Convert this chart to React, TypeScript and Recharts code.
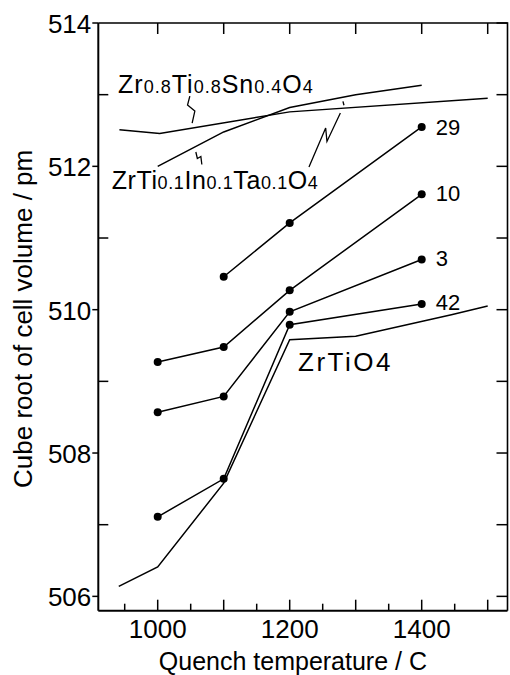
import React from 'react';
import { LineChart, Line, XAxis, YAxis, ReferenceDot, Label } from 'recharts';

const FONT = '"Liberation Sans", Arial, Helvetica, sans-serif';

// ---- data ----
const quenchTemps = [1000, 1100, 1200, 1400];
const temps29 = [1100, 1200, 1400];
const cell29 = [510.46, 511.21, 512.55];
const cell10 = [509.27, 509.48, 510.27, 511.61];
const cell3 = [508.57, 508.79, 509.97, 510.7];
const cell42 = [507.11, 507.64, 509.79, 510.08];
const zrTiO4Temps = [941, 1000, 1100, 1200, 1300, 1445, 1500];
const zrTiO4Cell = [506.14, 506.41, 507.58, 509.58, 509.63, 509.93, 510.05];
const snTemps = [942, 1003, 1200, 1500];
const snCell = [512.51, 512.46, 512.76, 512.95];
const inTaTemps = [1000, 1100, 1200, 1300, 1400];
const inTaCell = [512.0, 512.48, 512.82, 513.0, 513.13];

const X_DOMAIN = [910, 1530];
const Y_DOMAIN = [505.8, 514];
const xTicksBottom = [950, 1000, 1050, 1100, 1150, 1200, 1250, 1300, 1350, 1400, 1450, 1500];
const xTickLabels = [1000, 1200, 1400];
const xTicksTop = [1000, 1100, 1200, 1300, 1400, 1500];
const yTicks = [506, 507, 508, 509, 510, 511, 512, 513, 514];
const yTickLabels = [506, 508, 510, 512, 514];

// ---- layout ----
const CHART_W = 510;
const CHART_H = 675;
const MARGIN = { top: 23, right: 2.5, bottom: 0, left: 0 };
const Y_AXIS_W = 98.3;
const X_AXIS_H = 64.3;
const PLOT_W = CHART_W - MARGIN.left - MARGIN.right - Y_AXIS_W;
const PLOT_H = CHART_H - MARGIN.top - MARGIN.bottom - X_AXIS_H;
const ANCHOR = { x: 1000, y: 510 };

const toPts = (t: number[], v: number[]) => t.map((x, i) => ({ t: x, v: v[i] }));

const poly = (pts: number[][], w = 1.5, key?: string) => (
  <polyline key={key} points={pts.map((q) => q.join(',')).join(' ')} fill="none" stroke="#000" strokeWidth={w} />
);

// frame (top / right edges) and all tick marks, placed relative to an anchor point
// mapped by the chart's own scales
const FrameShape = (p: any) => {
  const sx = PLOT_W / (X_DOMAIN[1] - X_DOMAIN[0]);
  const sy = PLOT_H / (Y_DOMAIN[1] - Y_DOMAIN[0]);
  const X = (v: number) => p.cx + (v - ANCHOR.x) * sx;
  const Y = (v: number) => p.cy - (v - ANCHOR.y) * sy;
  const L = X(X_DOMAIN[0]);
  const R = X(X_DOMAIN[1]);
  const T = Y(Y_DOMAIN[1]);
  const B = Y(Y_DOMAIN[0]);
  return (
    <g>
      {poly([[L, T], [R, T], [R, B]], 1.6)}
      {xTicksBottom.map((v) => poly([[X(v), B], [X(v), B - (v % 100 === 0 ? 11 : 7)]], 1.5, 'b' + v))}
      {xTicksTop.map((v) => poly([[X(v), T], [X(v), T + 11]], 1.5, 't' + v))}
      {yTicks.map((v) =>
        yTickLabels.includes(v)
          ? poly([[L, Y(v)], [L - 6, Y(v)]], 1.5, 'l' + v)
          : poly([[L, Y(v)], [L + 10, Y(v)]], 1.5, 'l' + v)
      )}
      {yTicks.map((v) => poly([[R, Y(v)], [R - 11, Y(v)]], 1.5, 'r' + v))}
    </g>
  );
};

const BottomTick = (p: any) => {
  const v = p.payload.value;
  if (!xTickLabels.includes(v)) return <g />;
  return (
    <text x={Number(p.x)} y={Number(p.y) + 27} textAnchor="middle" fontSize={26} fontFamily={FONT} fill="#000">
      {v}
    </text>
  );
};

const LeftTick = (p: any) => {
  const v = p.payload.value;
  if (!yTickLabels.includes(v)) return <g />;
  return (
    <text x={Number(p.x) - 7} y={Number(p.y) + 10} textAnchor="end" fontSize={26} fontFamily={FONT} fill="#000">
      {v}
    </text>
  );
};

const XTitle = (props: any) => {
  const vb = props.viewBox || { x: 98, y: 611, width: 410, height: 64 };
  return (
    <text x={vb.x + vb.width / 2 - 10} y={vb.y + vb.height - 5} textAnchor="middle" fontSize={25} fontFamily={FONT} fill="#000">
      Quench temperature / C
    </text>
  );
};

const YTitle = (props: any) => {
  const vb = props.viewBox || { x: 0, y: 23, width: 98, height: 588 };
  const cx = vb.x + 32;
  const cy = vb.y + vb.height / 2 + 2;
  return (
    <text x={cx} y={cy} transform={`rotate(-90 ${cx} ${cy})`} textAnchor="middle" fontSize={26} fontFamily={FONT} fill="#000">
      Cube root of cell volume / pm
    </text>
  );
};

const numLabel = (txt: string, dy: number) => (p: any) => (
  <text x={p.cx + 14} y={p.cy + 8 + dy} fontSize={22} fontFamily={FONT} fill="#000">
    {txt}
  </text>
);

const MAIN = 25;
const SUB = 18;

const SnLabel = (p: any) => (
  <text x={p.cx} y={p.cy} fontFamily={FONT} fill="#000" style={{ letterSpacing: '1px' }}>
    <tspan fontSize={MAIN}>Zr</tspan>
    <tspan fontSize={SUB}>0.8</tspan>
    <tspan fontSize={MAIN}>Ti</tspan>
    <tspan fontSize={SUB}>0.8</tspan>
    <tspan fontSize={MAIN}>Sn</tspan>
    <tspan fontSize={SUB}>0.4</tspan>
    <tspan fontSize={MAIN}>O</tspan>
    <tspan fontSize={SUB}>4</tspan>
  </text>
);

const InTaLabel = (p: any) => (
  <text x={p.cx} y={p.cy} fontFamily={FONT} fill="#000" style={{ letterSpacing: '0.6px' }}>
    <tspan fontSize={MAIN}>ZrTi</tspan>
    <tspan fontSize={SUB}>0.1</tspan>
    <tspan fontSize={MAIN}>In</tspan>
    <tspan fontSize={SUB}>0.1</tspan>
    <tspan fontSize={MAIN}>Ta</tspan>
    <tspan fontSize={SUB}>0.1</tspan>
    <tspan fontSize={MAIN}>O</tspan>
    <tspan fontSize={SUB}>4</tspan>
  </text>
);

const ZrTiO4Label = (p: any) => (
  <text x={p.cx} y={p.cy} fontFamily={FONT} fontSize={26} fill="#000" style={{ letterSpacing: '2.5px' }}>
    ZrTiO4
  </text>
);

const leader = (pts: number[][], extra?: number[][]) => (p: any) => (
  <g>
    {poly(pts.map(([dx, dy]) => [p.cx + dx, p.cy + dy]), 1.3)}
    {extra && poly(extra.map(([dx, dy]) => [p.cx + dx, p.cy + dy]), 1.3)}
  </g>
);

const lineProps = {
  dataKey: 'v',
  stroke: '#000',
  strokeWidth: 1.5,
  isAnimationActive: false,
  type: 'linear' as const,
};

const dotStyle = { r: 4, fill: '#000', stroke: '#000', strokeWidth: 0 };

export default function App() {
  return (
    <div style={{ position: 'absolute', left: 0, top: 0, background: '#fff' }}>
      <LineChart width={CHART_W} height={CHART_H} margin={MARGIN}>
        <XAxis
          dataKey="t"
          type="number"
          domain={X_DOMAIN}
          ticks={xTicksBottom}
          interval={0}
          allowDataOverflow
          height={X_AXIS_H}
          tickSize={0}
          tickMargin={0}
          tickLine={false}
          tick={<BottomTick />}
          axisLine={{ stroke: '#000', strokeWidth: 2 }}
        >
          <Label content={<XTitle />} />
        </XAxis>
        <YAxis
          type="number"
          domain={Y_DOMAIN}
          ticks={yTicks}
          interval={0}
          allowDataOverflow
          width={Y_AXIS_W}
          tickSize={0}
          tickMargin={0}
          tickLine={false}
          tick={<LeftTick />}
          axisLine={{ stroke: '#000', strokeWidth: 2 }}
        >
          <Label content={<YTitle />} />
        </YAxis>

        <ReferenceDot x={ANCHOR.x} y={ANCHOR.y} r={0} shape={FrameShape} />

        <Line {...lineProps} data={toPts(zrTiO4Temps, zrTiO4Cell)} dot={false} activeDot={false} />
        <Line {...lineProps} data={toPts(snTemps, snCell)} dot={false} activeDot={false} />
        <Line {...lineProps} data={toPts(inTaTemps, inTaCell)} dot={false} activeDot={false} />
        <Line {...lineProps} data={toPts(temps29, cell29)} dot={dotStyle} activeDot={false} />
        <Line {...lineProps} data={toPts(quenchTemps, cell10)} dot={dotStyle} activeDot={false} />
        <Line {...lineProps} data={toPts(quenchTemps, cell3)} dot={dotStyle} activeDot={false} />
        <Line {...lineProps} data={toPts(quenchTemps, cell42)} dot={dotStyle} activeDot={false} />

        <ReferenceDot x={temps29[2]} y={cell29[2]} r={0} shape={numLabel('29', 0)} />
        <ReferenceDot x={quenchTemps[3]} y={cell10[3]} r={0} shape={numLabel('10', -1)} />
        <ReferenceDot x={quenchTemps[3]} y={cell3[3]} r={0} shape={numLabel('3', -2)} />
        <ReferenceDot x={quenchTemps[3]} y={cell42[3]} r={0} shape={numLabel('42', -2)} />

        <ReferenceDot x={940} y={513.03} r={0} shape={<SnLabel />} />
        <ReferenceDot x={930.3} y={511.69} r={0} shape={<InTaLabel />} />
        <ReferenceDot x={1212.6} y={509.15} r={0} shape={<ZrTiO4Label />} />

        <ReferenceDot x={1048.7} y={512.98} r={0} shape={leader([[0, 0], [-2.3, 9], [5, 15], [2.3, 27]])} />
        <ReferenceDot x={1057.8} y={512.2} r={0} shape={leader([[0, 0], [1.5, 6.5], [5, 4.5], [6, 12.5]])} />
        <ReferenceDot
          x={1229.2}
          y={511.99}
          r={0}
          shape={leader([[0, 0], [16.7, -39], [18, -25.6], [31.4, -54]], [[34, -65.6], [35, -61.8]])}
        />
      </LineChart>
    </div>
  );
}
